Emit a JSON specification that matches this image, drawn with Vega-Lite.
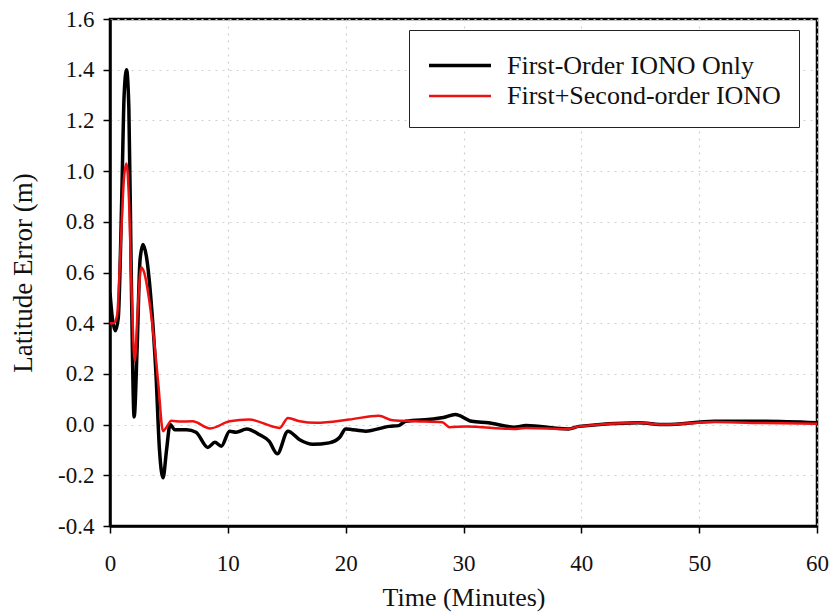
{
  "$schema": "https://vega.github.io/schema/vega-lite/v6.json",
  "width": 707,
  "height": 507,
  "autosize": {"type": "none"},
  "padding": {"left": 110, "top": 19, "right": 14, "bottom": 86},
  "background": "white",
  "config": {
    "font": "Liberation Serif",
    "view": {"stroke": "black", "strokeWidth": 2.5},
    "axis": {
      "labelFont": "Liberation Serif",
      "titleFont": "Liberation Serif",
      "labelFontSize": 23,
      "titleFontWeight": "normal",
      "labelColor": "#111",
      "titleColor": "#111",
      "domainColor": "black",
      "domainWidth": 2.5,
      "tickColor": "black",
      "tickWidth": 1.5,
      "tickSize": 7,
      "gridColor": "#cfcfcf",
      "gridDash": [2, 5],
      "gridWidth": 1.2
    }
  },
  "data": {
    "values": [
      {"t": 0, "v": 0.52, "s": "First-Order IONO Only"},
      {"t": 0.2, "v": 0.42, "s": "First-Order IONO Only"},
      {"t": 0.45, "v": 0.37, "s": "First-Order IONO Only"},
      {"t": 0.7, "v": 0.42, "s": "First-Order IONO Only"},
      {"t": 1.0, "v": 0.9, "s": "First-Order IONO Only"},
      {"t": 1.2, "v": 1.3, "s": "First-Order IONO Only"},
      {"t": 1.4, "v": 1.4, "s": "First-Order IONO Only"},
      {"t": 1.6, "v": 1.25, "s": "First-Order IONO Only"},
      {"t": 1.8, "v": 0.6, "s": "First-Order IONO Only"},
      {"t": 2.05, "v": 0.03, "s": "First-Order IONO Only"},
      {"t": 2.3, "v": 0.3, "s": "First-Order IONO Only"},
      {"t": 2.55, "v": 0.65, "s": "First-Order IONO Only"},
      {"t": 2.8, "v": 0.71, "s": "First-Order IONO Only"},
      {"t": 3.1, "v": 0.66, "s": "First-Order IONO Only"},
      {"t": 3.5, "v": 0.48, "s": "First-Order IONO Only"},
      {"t": 3.9, "v": 0.2, "s": "First-Order IONO Only"},
      {"t": 4.2, "v": -0.1, "s": "First-Order IONO Only"},
      {"t": 4.5, "v": -0.21, "s": "First-Order IONO Only"},
      {"t": 4.8, "v": -0.1, "s": "First-Order IONO Only"},
      {"t": 5.1, "v": 0.0, "s": "First-Order IONO Only"},
      {"t": 5.5, "v": -0.02, "s": "First-Order IONO Only"},
      {"t": 6.5, "v": -0.02, "s": "First-Order IONO Only"},
      {"t": 7.3, "v": -0.03, "s": "First-Order IONO Only"},
      {"t": 8.3, "v": -0.09, "s": "First-Order IONO Only"},
      {"t": 8.9, "v": -0.07, "s": "First-Order IONO Only"},
      {"t": 9.45, "v": -0.085, "s": "First-Order IONO Only"},
      {"t": 10.15, "v": -0.026, "s": "First-Order IONO Only"},
      {"t": 10.7, "v": -0.03, "s": "First-Order IONO Only"},
      {"t": 11.6, "v": -0.017, "s": "First-Order IONO Only"},
      {"t": 12.7, "v": -0.04, "s": "First-Order IONO Only"},
      {"t": 13.5, "v": -0.065, "s": "First-Order IONO Only"},
      {"t": 14.2, "v": -0.115, "s": "First-Order IONO Only"},
      {"t": 15.1, "v": -0.026, "s": "First-Order IONO Only"},
      {"t": 16.1, "v": -0.06, "s": "First-Order IONO Only"},
      {"t": 17.2, "v": -0.078, "s": "First-Order IONO Only"},
      {"t": 18.6, "v": -0.072, "s": "First-Order IONO Only"},
      {"t": 19.5, "v": -0.05, "s": "First-Order IONO Only"},
      {"t": 20.0, "v": -0.017, "s": "First-Order IONO Only"},
      {"t": 21.7, "v": -0.026, "s": "First-Order IONO Only"},
      {"t": 23.7, "v": -0.007, "s": "First-Order IONO Only"},
      {"t": 24.5, "v": -0.004, "s": "First-Order IONO Only"},
      {"t": 25.1, "v": 0.013, "s": "First-Order IONO Only"},
      {"t": 27.4, "v": 0.022, "s": "First-Order IONO Only"},
      {"t": 28.3, "v": 0.028, "s": "First-Order IONO Only"},
      {"t": 29.3, "v": 0.04, "s": "First-Order IONO Only"},
      {"t": 30.7, "v": 0.013, "s": "First-Order IONO Only"},
      {"t": 32.1, "v": 0.007, "s": "First-Order IONO Only"},
      {"t": 34.3, "v": -0.01, "s": "First-Order IONO Only"},
      {"t": 35.3, "v": -0.004, "s": "First-Order IONO Only"},
      {"t": 38.9, "v": -0.017, "s": "First-Order IONO Only"},
      {"t": 39.8, "v": -0.007, "s": "First-Order IONO Only"},
      {"t": 44.8, "v": 0.007, "s": "First-Order IONO Only"},
      {"t": 47.1, "v": 0.0, "s": "First-Order IONO Only"},
      {"t": 51.3, "v": 0.013, "s": "First-Order IONO Only"},
      {"t": 55.6, "v": 0.013, "s": "First-Order IONO Only"},
      {"t": 60, "v": 0.007, "s": "First-Order IONO Only"},
      {"t": 0, "v": 0.4, "s": "First+Second-order IONO"},
      {"t": 0.3, "v": 0.4, "s": "First+Second-order IONO"},
      {"t": 0.6, "v": 0.43, "s": "First+Second-order IONO"},
      {"t": 0.9, "v": 0.7, "s": "First+Second-order IONO"},
      {"t": 1.2, "v": 0.98, "s": "First+Second-order IONO"},
      {"t": 1.4, "v": 1.03, "s": "First+Second-order IONO"},
      {"t": 1.6, "v": 0.9, "s": "First+Second-order IONO"},
      {"t": 1.85, "v": 0.5, "s": "First+Second-order IONO"},
      {"t": 2.1, "v": 0.25, "s": "First+Second-order IONO"},
      {"t": 2.35, "v": 0.45, "s": "First+Second-order IONO"},
      {"t": 2.65, "v": 0.62, "s": "First+Second-order IONO"},
      {"t": 2.9, "v": 0.6, "s": "First+Second-order IONO"},
      {"t": 3.3, "v": 0.5, "s": "First+Second-order IONO"},
      {"t": 3.7, "v": 0.35, "s": "First+Second-order IONO"},
      {"t": 4.1, "v": 0.16, "s": "First+Second-order IONO"},
      {"t": 4.5, "v": -0.026, "s": "First+Second-order IONO"},
      {"t": 4.8, "v": -0.01, "s": "First+Second-order IONO"},
      {"t": 5.2, "v": 0.015, "s": "First+Second-order IONO"},
      {"t": 6.0, "v": 0.012, "s": "First+Second-order IONO"},
      {"t": 7.0, "v": 0.013, "s": "First+Second-order IONO"},
      {"t": 8.5, "v": -0.015, "s": "First+Second-order IONO"},
      {"t": 10.15, "v": 0.013, "s": "First+Second-order IONO"},
      {"t": 11.8, "v": 0.02, "s": "First+Second-order IONO"},
      {"t": 14.4, "v": -0.013, "s": "First+Second-order IONO"},
      {"t": 15.1, "v": 0.026, "s": "First+Second-order IONO"},
      {"t": 16.1, "v": 0.013, "s": "First+Second-order IONO"},
      {"t": 17.5, "v": 0.007, "s": "First+Second-order IONO"},
      {"t": 20.3, "v": 0.02, "s": "First+Second-order IONO"},
      {"t": 22.8, "v": 0.035, "s": "First+Second-order IONO"},
      {"t": 24.0, "v": 0.017, "s": "First+Second-order IONO"},
      {"t": 25.9, "v": 0.013, "s": "First+Second-order IONO"},
      {"t": 28.2, "v": 0.009, "s": "First+Second-order IONO"},
      {"t": 28.8, "v": -0.01, "s": "First+Second-order IONO"},
      {"t": 30.2, "v": -0.007, "s": "First+Second-order IONO"},
      {"t": 34.3, "v": -0.017, "s": "First+Second-order IONO"},
      {"t": 35.3, "v": -0.013, "s": "First+Second-order IONO"},
      {"t": 38.9, "v": -0.017, "s": "First+Second-order IONO"},
      {"t": 39.8, "v": -0.007, "s": "First+Second-order IONO"},
      {"t": 44.8, "v": 0.007, "s": "First+Second-order IONO"},
      {"t": 47.1, "v": 0.0, "s": "First+Second-order IONO"},
      {"t": 51.3, "v": 0.01, "s": "First+Second-order IONO"},
      {"t": 55.6, "v": 0.006, "s": "First+Second-order IONO"},
      {"t": 60, "v": 0.003, "s": "First+Second-order IONO"}
    ]
  },
  "mark": {"type": "line", "interpolate": "monotone", "clip": true},
  "encoding": {
    "x": {
      "field": "t",
      "type": "quantitative",
      "title": "Time (Minutes)",
      "scale": {"domain": [0, 60], "nice": false},
      "axis": {"values": [0, 10, 20, 30, 40, 50, 60], "labelFont": "Liberation Serif", "labelFontSize": 23, "labelPadding": 19, "titlePadding": 9, "titleFontSize": 26, "labelFlush": false}
    },
    "y": {
      "field": "v",
      "type": "quantitative",
      "title": "Latitude Error (m)",
      "scale": {"domain": [-0.4, 1.6], "nice": false},
      "axis": {"values": [-0.4, -0.2, 0, 0.2, 0.4, 0.6, 0.8, 1.0, 1.2, 1.4, 1.6], "labelExpr": "replace(format(datum.value, '.1f'), '\u2212', '-')", "labelFont": "Liberation Serif", "labelFontSize": 23, "labelPadding": 9, "titlePadding": 20, "titleFontSize": 27, "labelFlush": false}
    },
    "color": {
      "field": "s",
      "type": "nominal",
      "scale": {"domain": ["First-Order IONO Only", "First+Second-order IONO"], "range": ["#000000", "#ee1111"]},
      "legend": {
        "title": null,
        "orient": "none",
        "legendX": 299,
        "legendY": 11,
        "direction": "vertical",
        "strokeColor": "#222",
        "fillColor": "white",
        "padding": 18,
        "symbolType": "M-1,0H3",
        "symbolSize": 961,
        "symbolStrokeWidth": 3,
        "labelFont": "Liberation Serif",
        "labelFontSize": 26,
        "labelColor": "#111",
        "labelLimit": 0,
        "labelOffset": 45,
        "rowPadding": -3
      }
    },
    "strokeWidth": {
      "field": "s",
      "type": "nominal",
      "scale": {"domain": ["First-Order IONO Only", "First+Second-order IONO"], "range": [3.5, 2.5]},
      "legend": null
    }
  }
}
